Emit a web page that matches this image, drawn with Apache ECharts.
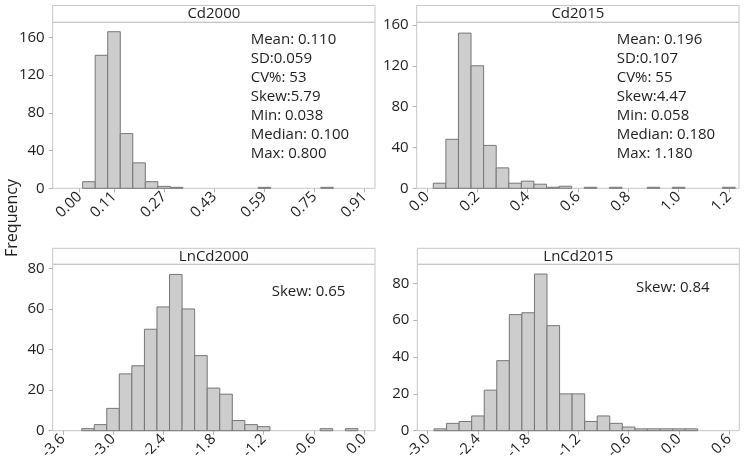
<!DOCTYPE html>
<html><head><meta charset="utf-8">
<script src="https://cdn.jsdelivr.net/npm/echarts@6/dist/echarts.min.js"></script>
<style>html,body{margin:0;padding:0;background:#fff}#c{width:745px;height:466px}</style>
</head><body><div id="c"></div>
<script>
// ---------- data ----------
const titles = ['Cd2000', 'Cd2015', 'LnCd2000', 'LnCd2015'];

const cd2000Bins   = [0.03, 0.07, 0.11, 0.15, 0.19, 0.23, 0.27, 0.31, 0.59, 0.79];
const cd2000Counts = [7, 141, 166, 58, 27, 7, 2, 1, 1, 1];
const cd2000BinWidth = 0.04;

const cd2015Bins   = [0.05, 0.10, 0.15, 0.20, 0.25, 0.30, 0.35, 0.40, 0.45, 0.50, 0.55, 0.65, 0.75, 0.90, 1.00, 1.20];
const cd2015Counts = [5, 48, 152, 120, 42, 20, 5, 7, 4, 1, 2, 1, 1, 1, 1, 1];
const cd2015BinWidth = 0.05;

const lnCd2000Bins   = [-3.30, -3.15, -3.00, -2.85, -2.70, -2.55, -2.40, -2.25, -2.10, -1.95, -1.80, -1.65, -1.50, -1.35, -1.20, -0.45, -0.15];
const lnCd2000Counts = [1, 3, 11, 28, 32, 50, 61, 77, 60, 37, 21, 18, 5, 3, 2, 1, 1];
const lnCd2000BinWidth = 0.15;

const lnCd2015Bins   = [-2.85, -2.70, -2.55, -2.40, -2.25, -2.10, -1.95, -1.80, -1.65, -1.50, -1.35, -1.20, -1.05, -0.90, -0.75, -0.60, -0.45, -0.30, -0.15, 0.00, 0.15];
const lnCd2015Counts = [1, 4, 5, 8, 22, 38, 63, 64, 85, 57, 20, 20, 5, 8, 4, 2, 1, 1, 1, 1, 1];
const lnCd2015BinWidth = 0.15;

const cd2000XTicks   = [0.00, 0.11, 0.27, 0.43, 0.59, 0.75, 0.91];
const cd2015XTicks   = [0.0, 0.2, 0.4, 0.6, 0.8, 1.0, 1.2];
const lnCd2000XTicks = [-3.6, -3.0, -2.4, -1.8, -1.2, -0.6, 0.0];
const lnCd2015XTicks = [-3.0, -2.4, -1.8, -1.2, -0.6, 0.0, 0.6];
const yTicksTop    = [0, 40, 80, 120, 160];
const yTicksBottom = [0, 20, 40, 60, 80];

const statsCd2000 = ['Mean: 0.110', 'SD:0.059', 'CV%: 53', 'Skew:5.79', 'Min: 0.038', 'Median: 0.100', 'Max: 0.800'];
const statsCd2015 = ['Mean: 0.196', 'SD:0.107', 'CV%: 55', 'Skew:4.47', 'Min: 0.058', 'Median: 0.180', 'Max: 1.180'];
const statsLnCd2000 = ['Skew: 0.65'];
const statsLnCd2015 = ['Skew: 0.84'];
const yAxisTitle = 'Frequency';

// ---------- layout ----------
const FONT = 'Open Sans';
const frameColor = '#c6c6c6';
const panels = [
  {grid: {left: 52.7, top: 22.3, width: 322.3, height: 166}, stripTop: 5.5,
   xMin: -0.0856, xMax: 0.943, yMax: 176, dec: 2,
   bins: cd2000Bins, counts: cd2000Counts, bw: cd2000BinWidth, xTicks: cd2000XTicks, yTicks: yTicksTop,
   stats: statsCd2000, statsPos: [250.7, 30.5]},
  {grid: {left: 416.7, top: 22.3, width: 322.3, height: 166}, stripTop: 5.5,
   xMin: -0.041, xMax: 1.240, yMax: 162.6, dec: 1,
   bins: cd2015Bins, counts: cd2015Counts, bw: cd2015BinWidth, xTicks: cd2015XTicks, yTicks: yTicksTop,
   stats: statsCd2015, statsPos: [616.7, 29.8]},
  {grid: {left: 52.7, top: 264.3, width: 322.3, height: 166.4}, stripTop: 248.3,
   xMin: -3.721, xMax: 0.130, yMax: 82.0, dec: 1,
   bins: lnCd2000Bins, counts: lnCd2000Counts, bw: lnCd2000BinWidth, xTicks: lnCd2000XTicks, yTicks: yTicksBottom,
   stats: statsLnCd2000, statsPos: [271.7, 282.2]},
  {grid: {left: 417.3, top: 264.3, width: 322, height: 166.4}, stripTop: 248.3,
   xMin: -3.1245, xMax: 0.722, yMax: 90.3, dec: 1,
   bins: lnCd2015Bins, counts: lnCd2015Counts, bw: lnCd2015BinWidth, xTicks: lnCd2015XTicks, yTicks: yTicksBottom,
   stats: statsLnCd2015, statsPos: [636, 278.2]}
];

const option = {
  animation: false,
  backgroundColor: '#fff',
  grid: [], xAxis: [], yAxis: [], series: [], title: [], graphic: []
};

panels.forEach((p, i) => {
  option.grid.push(Object.assign({show: true, borderColor: frameColor, borderWidth: 1, backgroundColor: 'transparent', containLabel: false}, p.grid));
  option.xAxis.push({
    type: 'value', gridIndex: i, min: p.xMin, max: p.xMax,
    axisLine: {show: false, onZero: false},
    splitLine: {show: false},
    axisTick: {show: true, customValues: p.xTicks, length: 4, lineStyle: {color: '#b4b4b4'}},
    axisLabel: {customValues: p.xTicks, rotate: 45, margin: 6, fontSize: 15, fontFamily: FONT, color: '#1e1e1e',
      formatter: v => Number(v).toFixed(p.dec)}
  });
  option.yAxis.push({
    type: 'value', gridIndex: i, min: 0, max: p.yMax,
    axisLine: {show: false, onZero: false},
    splitLine: {show: false},
    axisTick: {show: true, customValues: p.yTicks, length: 4, lineStyle: {color: '#b4b4b4'}},
    axisLabel: {customValues: p.yTicks, margin: 8, fontSize: 15, fontFamily: FONT, color: '#1e1e1e'}
  });
  option.series.push({
    type: 'custom', xAxisIndex: i, yAxisIndex: i,
    data: p.bins.map((b, k) => [b, p.counts[k], p.bw]),
    encode: {x: 0, y: 1},
    renderItem: (params, api) => {
      const c = api.value(0), n = api.value(1), w = api.value(2);
      const a = api.coord([c - w / 2, n]);
      const b = api.coord([c + w / 2, 0]);
      return {type: 'rect', shape: {x: a[0], y: a[1], width: b[0] - a[0], height: b[1] - a[1]},
        style: {fill: '#cdcdcd', stroke: '#767676', lineWidth: 1}};
    }
  });
  // header strip
  option.graphic.push({type: 'rect', z: 1, silent: true,
    shape: {x: p.grid.left, y: p.stripTop, width: p.grid.width, height: p.grid.top - p.stripTop},
    style: {fill: 'transparent', stroke: frameColor, lineWidth: 1}});
  option.title.push({text: titles[i], left: p.grid.left + p.grid.width / 2, top: p.stripTop, textAlign: 'center', padding: 0, z: 20,
    textStyle: {fontSize: 15, fontWeight: 'normal', fontFamily: FONT, color: '#1e1e1e', lineHeight: p.grid.top - p.stripTop}});
  option.title.push({text: p.stats.join('\n'), left: p.statsPos[0], top: p.statsPos[1], padding: 0, z: 20,
    textStyle: {fontSize: 15, fontWeight: 'normal', fontFamily: FONT, color: '#1e1e1e', lineHeight: 19}});
});

option.graphic.push({type: 'text', x: 12, y: 218, rotation: Math.PI / 2,
  style: {text: yAxisTitle, font: '16px "Open Sans"', fill: '#1e1e1e', textAlign: 'center', textVerticalAlign: 'middle'}});

const chart = echarts.init(document.getElementById('c'), null, {renderer: 'canvas'});
chart.setOption(option);
</script>
</body></html>
